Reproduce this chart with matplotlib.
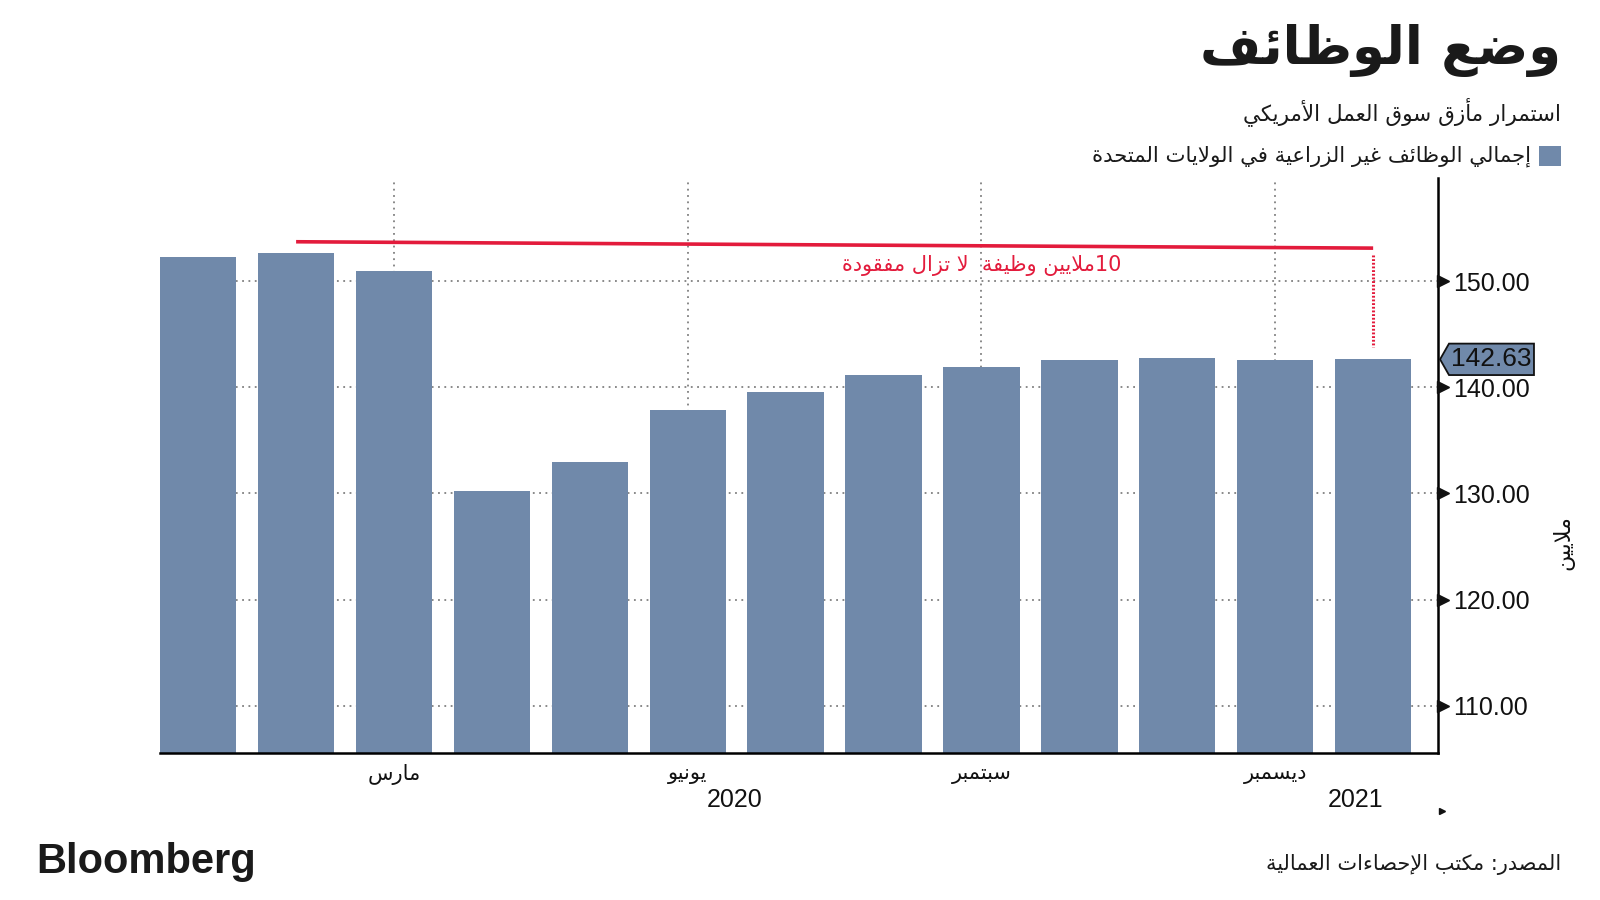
import re
import matplotlib.pyplot as plt
from matplotlib.patches import Polygon, Rectangle
from matplotlib.ticker import MultipleLocator

# Dane: zatrudnienie poza rolnictwem w USA (mln), styczeń 2020 - styczeń 2021
miesiace = ['2020-01', '2020-02', '2020-03', '2020-04', '2020-05', '2020-06', '2020-07',
            '2020-08', '2020-09', '2020-10', '2020-11', '2020-12', '2021-01']
wartosci = [152.3, 152.6, 150.9, 130.2, 133.0, 137.9, 139.6, 141.2, 141.9, 142.6, 142.8, 142.6, 142.63]
pozycje_miesiecy = [2, 5, 8, 11]
nazwy_miesiecy = ['مارس', 'يونيو', 'سبتمبر', 'ديسمبر']
lata = ['2020', '2021']
pozycje_lat = [5.48, 11.82]
yticks = [110, 120, 130, 140, 150]

tytul = 'وضع الوظائف'
podtytul = 'استمرار مأزق سوق العمل الأمريكي'
legenda = 'إجمالي الوظائف غير الزراعية في الولايات المتحدة'
adnotacja = '10ملايين وظيفة  لا تزال مفقودة'
jednostka = 'ملايين'
zrodlo = 'المصدر: مكتب الإحصاءات العمالية'

NIEBIESKI = '#7089AA'
CZERWONY = '#E31B3C'

# matplotlib nie laczy liter arabskich i nie ma bidi - robimy to recznie
BAZA = {'ء': 0xFE80, 'آ': 0xFE81, 'أ': 0xFE83, 'ؤ': 0xFE85, 'إ': 0xFE87, 'ئ': 0xFE89,
        'ا': 0xFE8D, 'ب': 0xFE8F, 'ة': 0xFE93, 'ت': 0xFE95, 'ث': 0xFE99, 'ج': 0xFE9D,
        'ح': 0xFEA1, 'خ': 0xFEA5, 'د': 0xFEA9, 'ذ': 0xFEAB, 'ر': 0xFEAD, 'ز': 0xFEAF,
        'س': 0xFEB1, 'ش': 0xFEB5, 'ص': 0xFEB9, 'ض': 0xFEBD, 'ط': 0xFEC1, 'ظ': 0xFEC5,
        'ع': 0xFEC9, 'غ': 0xFECD, 'ف': 0xFED1, 'ق': 0xFED5, 'ك': 0xFED9, 'ل': 0xFEDD,
        'م': 0xFEE1, 'ن': 0xFEE5, 'ه': 0xFEE9, 'و': 0xFEED, 'ى': 0xFEEF, 'ي': 0xFEF1}
PODWOJNE = set('ئبتثجحخسشصضطظعغفقكلمنهي')
LAM_ALEF = {'آ': 0xFEF5, 'أ': 0xFEF7, 'إ': 0xFEF9, 'ا': 0xFEFB}


def arabski(tekst):
    znaki = []
    i = 0
    while i < len(tekst):
        if tekst[i] == 'ل' and i + 1 < len(tekst) and tekst[i + 1] in LAM_ALEF:
            znaki.append(('LA', tekst[i + 1]))
            i += 2
        else:
            znaki.append((tekst[i], None))
            i += 1
    wynik = []
    for k, (c, alef) in enumerate(znaki):
        prev = znaki[k - 1][0] if k > 0 else None
        nast = znaki[k + 1][0] if k + 1 < len(znaki) else None
        z_prawej = prev in PODWOJNE
        if c == 'LA':
            wynik.append(chr(LAM_ALEF[alef] + (1 if z_prawej else 0)))
        elif c == 'ء':
            wynik.append(chr(BAZA[c]))
        elif c in BAZA:
            z_lewej = c in PODWOJNE and (nast == 'LA' or (nast in BAZA and nast != 'ء'))
            b = BAZA[c]
            if z_prawej and z_lewej:
                b += 3
            elif z_lewej:
                b += 2
            elif z_prawej:
                b += 1
            wynik.append(chr(b))
        else:
            wynik.append(c)
    s = ''.join(wynik)
    czesci = re.findall(r'[0-9.]+|[^0-9.]+', s)
    return ''.join(p if p[0].isdigit() else p[::-1] for p in reversed(czesci))


AR = 'DejaVu Sans'
LAT = 'Liberation Sans'

fig = plt.figure(figsize=(16, 9), dpi=100)
ax = fig.add_axes([0.1, 0.1637, 0.7986, 0.6385])

x = list(range(len(wartosci)))
ax.bar(x, wartosci, width=0.78, color=NIEBIESKI, zorder=2)

ax.set_xlim(-0.39, 12.66)
ax.set_ylim(105.6, 159.7)

# siatka
for p in pozycje_miesiecy:
    ax.axvline(p, color='#808080', linestyle=(0, (1, 2.5)), linewidth=1.3, zorder=1)
for yt in yticks:
    ax.axhline(yt, color='#808080', linestyle=(0, (1, 2.5)), linewidth=1.3, zorder=1)

# osie
for s in ['left', 'top']:
    ax.spines[s].set_visible(False)
ax.spines['bottom'].set_linewidth(1.8)
ax.spines['right'].set_linewidth(1.8)
ax.yaxis.tick_right()
ax.set_yticks(yticks)
ax.set_yticklabels([f'{v:.2f}' for v in yticks], fontfamily=LAT, fontsize=18, color='#111111')
ax.tick_params(axis='y', which='major', length=0, pad=11)
ax.yaxis.set_minor_locator(MultipleLocator(5))
ax.tick_params(axis='y', which='minor', length=5, width=1.5, color='white', direction='inout')
ax.plot([1.004] * len(yticks), yticks, marker='>', markersize=8, color='#111111', linestyle='None',
        transform=ax.get_yaxis_transform(), clip_on=False, zorder=5)

ax.set_xticks(pozycje_miesiecy)
ax.set_xticklabels([arabski(m) for m in nazwy_miesiecy], fontfamily=AR, fontsize=15, color='#111111')
ax.tick_params(axis='x', which='major', length=0, pad=8)
ax.set_xticks(x, minor=True)
ax.tick_params(axis='x', which='minor', length=5, width=1.5, color='white', direction='inout')
for rok, px in zip(lata, pozycje_lat):
    ax.text(px, -0.0823, rok, transform=ax.get_xaxis_transform(), ha='center', va='center',
            fontfamily=LAT, fontsize=18, color='#111111')
ax.plot([1.0034], [-0.101], marker='>', markersize=5, color='#111111', transform=ax.transAxes,
        clip_on=False)

# linia szczytu i brakujace miejsca pracy
szczyt = max(wartosci)
i_szczyt = wartosci.index(szczyt)
ostatnia = wartosci[-1]
ax.plot([i_szczyt, x[-1]], [szczyt + 1.1, szczyt + 0.5], color=CZERWONY, linewidth=2.6, zorder=4,
        solid_capstyle='butt')
ax.plot([x[-1], x[-1]], [szczyt - 0.15, ostatnia + 1.2], color=CZERWONY, linewidth=2.2,
        linestyle=(0, (0.6, 0.6)), zorder=4)
ax.text(8.0, 151.5, arabski(adnotacja), ha='center', va='center', fontfamily=AR, fontsize=15,
        color=CZERWONY, zorder=4)

# etykieta ostatniej wartosci
tr = ax.get_yaxis_transform()
h = 1.48
ax.add_patch(Polygon([(1.0018, ostatnia), (1.0088, ostatnia + h), (1.0753, ostatnia + h),
                      (1.0753, ostatnia - h), (1.0088, ostatnia - h)], closed=True,
                     facecolor=NIEBIESKI, edgecolor='#111111', linewidth=1.3, transform=tr,
                     clip_on=False, zorder=6))
ax.text(1.0419, ostatnia, f'{ostatnia:.2f}', transform=tr, ha='center', va='center',
        fontfamily=LAT, fontsize=19, color='#111111', zorder=7)

# jednostka
fig.text(0.977, 0.3967, arabski(jednostka), rotation=90, ha='center', va='center',
         fontfamily=AR, fontsize=16, color='#111111')

# naglowki
fig.text(0.9756, 0.944, arabski(tytul), ha='right', va='center', fontfamily=AR,
         fontweight='bold', fontsize=38, color='#1a1a1a')
fig.text(0.9756, 0.8756, arabski(podtytul), ha='right', va='center', fontfamily=AR,
         fontsize=15.5, color='#1a1a1a')
fig.patches.append(Rectangle((1539 / 1600, 1 - 166 / 900), 22 / 1600, 20 / 900,
                             transform=fig.transFigure, facecolor=NIEBIESKI, edgecolor='none'))
fig.text(0.957, 0.8267, arabski(legenda), ha='right', va='center', fontfamily=AR,
         fontsize=15.3, color='#1a1a1a')

# stopka
fig.text(0.9756, 0.0389, arabski(zrodlo), ha='right', va='center', fontfamily=AR,
         fontsize=15, color='#1a1a1a')
fig.text(0.0225, 0.0422, 'Bloomberg', ha='left', va='center', fontfamily=LAT,
         fontweight='bold', fontsize=30, color='#1a1a1a')

fig.savefig('out.png', dpi=100)
